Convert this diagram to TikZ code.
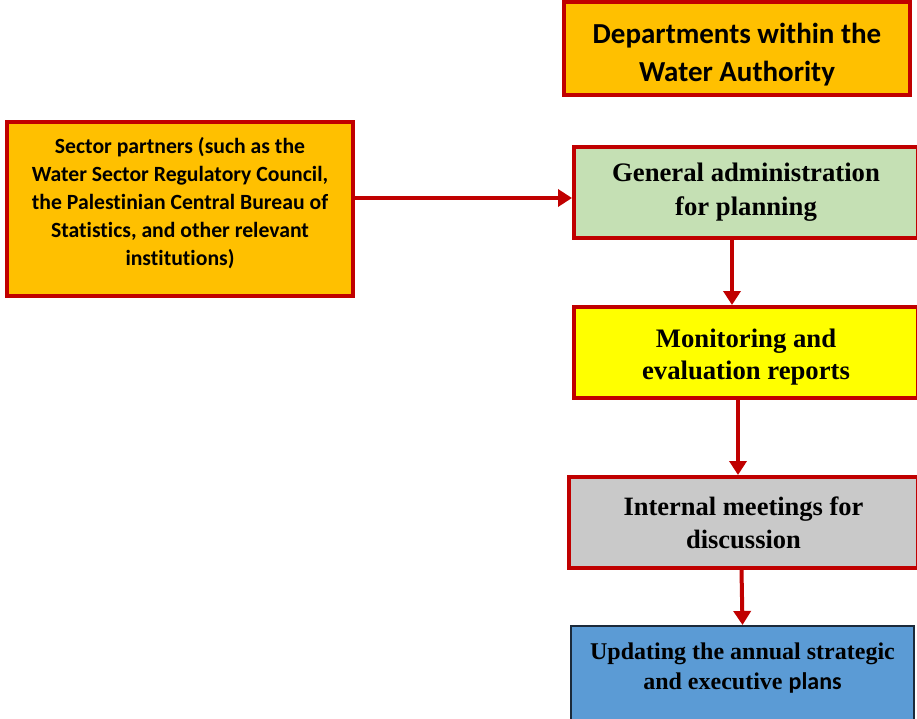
\documentclass[tikz,border=0pt]{standalone}
\usepackage{fontspec}
\setmainfont{Liberation Serif}
\newfontfamily\calibri[Ligatures={NoCommon}]{Carlito}
\usepackage{tikz}
\usetikzlibrary{arrows.meta}
\usepackage{xcolor}
\definecolor{boxred}{HTML}{C00000}
\definecolor{boxorange}{HTML}{FFC000}
\definecolor{boxgreen}{HTML}{C5E0B4}
\definecolor{boxyellow}{HTML}{FFFF00}
\definecolor{boxgray}{HTML}{C9C9C9}
\definecolor{boxblue}{HTML}{5B9BD5}
\definecolor{boxnavy}{HTML}{1B2A3A}

\begin{document}
\begin{tikzpicture}[x=1pt,y=-1pt,line cap=butt,
  box/.style={draw=boxred,line width=4pt,align=center,inner sep=0pt,font=\bfseries},
  flow/.style={draw=boxred,line width=4pt,-{Triangle[length=14pt,width=17pt]}}]
\useasboundingbox (0,0) rectangle (917,719);
\clip (0,0) rectangle (917,719);
% orange boxes
\node[box,fill=boxorange,minimum width=346pt,minimum height=93pt,
  font=\calibri\bfseries\fontsize{29}{38}\selectfont] (dept) at (737,48.5)
  {\rule{0pt}{32pt}Departments within the\\Water Authority};
\node[box,fill=boxorange,minimum width=346pt,minimum height=174pt,
  font=\calibri\bfseries\fontsize{21.7}{28}\selectfont] (sector) at (180,209)
  {Sector partners (such as the\\Water Sector Regulatory Council,\\the Palestinian Central Bureau of\\Statistics, and other relevant\\institutions)\rule[-14.5pt]{0pt}{0pt}};
% right column
\node[box,fill=boxgreen,minimum width=344pt,minimum height=91pt,
  font=\bfseries\fontsize{26.7}{34}\selectfont] (general) at (746,192.5)
  {General administration\\for planning};
\node[box,fill=boxyellow,minimum width=344pt,minimum height=91pt,
  font=\bfseries\fontsize{26.7}{32}\selectfont] (monitor) at (746,352.5)
  {\rule{0pt}{28pt}Monitoring and\\evaluation reports};
\node[box,fill=boxgray,minimum width=349pt,minimum height=91pt,
  font=\bfseries\fontsize{26.5}{33}\selectfont] (meet) at (743.5,522.5)
  {Internal meetings for\\discussion};
\node[box,fill=boxblue,draw=boxnavy,line width=2pt,minimum width=343pt,minimum height=96pt,
  font=\bfseries\fontsize{24}{30}\selectfont] (update) at (742.5,674)
  {Updating the annual strategic\\and executive {\calibri\bfseries plans}\rule[-15.5pt]{0pt}{0pt}};
% connectors
\draw[flow] ([yshift=11pt]sector.east) -- ([yshift=11pt]sector.east -| general.west);
\draw[flow] ([xshift=-14pt]general.south) -- ([xshift=-14pt]general.south |- monitor.north);
\draw[flow] ([xshift=-8pt]monitor.south) -- ([xshift=-8pt]monitor.south |- meet.north);
\draw[flow] ([xshift=-2pt]meet.south) -- ([xshift=0pt]update.north);
\end{tikzpicture}
\end{document}
